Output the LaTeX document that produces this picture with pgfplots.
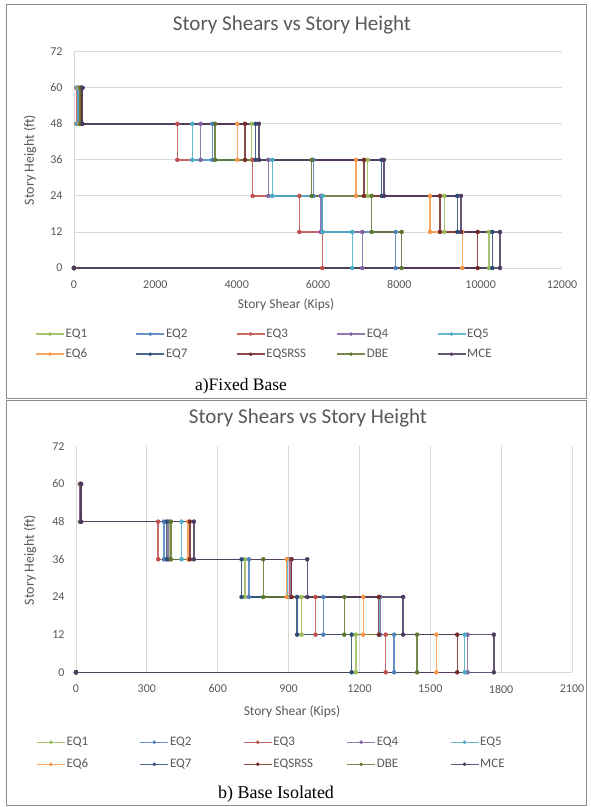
\documentclass[border=0pt]{standalone}
\usepackage{fontspec}
\setmainfont{Carlito}
\newfontfamily\capfont{Liberation Serif}
\usepackage{pgfplots}
\pgfplotsset{compat=1.18}

\definecolor{cEQa}{HTML}{9BBB59}
\definecolor{cEQb}{HTML}{4F81BD}
\definecolor{cEQc}{HTML}{C0504D}
\definecolor{cEQd}{HTML}{8064A2}
\definecolor{cEQe}{HTML}{4BACC6}
\definecolor{cEQf}{HTML}{F79646}
\definecolor{cEQg}{HTML}{2C4D75}
\definecolor{cSRSS}{HTML}{772C2A}
\definecolor{cDBE}{HTML}{5F7530}
\definecolor{cMCE}{HTML}{4D3B62}
\definecolor{tickgray}{HTML}{595959}
\definecolor{gridgray}{HTML}{D9D9D9}
\definecolor{framegray}{HTML}{8C8C8C}

\pgfplotsset{
  stair/.style={color=#1, line width=1.4pt, draw opacity=0.85, mark=*, mark size=2pt,
    mark options={solid, fill=#1, line width=0.4pt, draw opacity=1}},
  shearaxis/.style={
    scale only axis, clip=false,
    axis x line*=bottom, axis y line*=left,
    axis line style={draw=gridgray, line width=0.9pt},
    grid style={draw=gridgray, line width=0.9pt},
    major tick length=0pt,
    ymin=0, ymax=72, ytick={0,12,...,72},
    scaled x ticks=false,
    tick label style={font=\fontsize{12}{12}\selectfont, text=tickgray},
    /pgf/number format/assume math mode=true,
    /pgf/number format/1000 sep={},
    xticklabel style={yshift=-9pt}, yticklabel style={xshift=-8pt},
    legend columns=5,
    legend style={draw=none, fill=none, inner sep=0pt, anchor=north west,
      font=\fontsize{13}{15}\selectfont, text=tickgray,
      nodes={inner sep=1pt}, column sep=0pt},
    legend cell align=left,
    legend image code/.code={\draw[mark repeat=2, mark phase=2, #1, mark size=1.6pt]
      plot coordinates {(0pt,0pt) (14pt,0pt) (28pt,0pt)};},
  },
}

\begin{document}
\begin{tikzpicture}
\path[fill=white] (0pt,0pt) rectangle (590pt,-807pt);
\draw[framegray, line width=0.8pt] (6.5pt,-4.5pt) rectangle (586pt,-398.5pt);
\draw[framegray, line width=0.8pt] (6.5pt,-400.5pt) rectangle (586pt,-805.5pt);

% a) fixed base
\begin{axis}[shearaxis, at={(74pt,-268pt)}, anchor=south west,
  width=488pt, height=216.3pt,
  xmin=0, xmax=12000, xtick={0,2000,...,12000}, ymajorgrids,
  legend style={at={(axis description cs:-0.0799,-0.277)}, row sep=8pt}]
\addplot[stair=cEQa] coordinates {(160,60) (160,48) (4370,48) (4370,36) (7221,36) (7221,24) (9105,24) (9105,12) (10204,12) (10204,0) (0,0)};
\addlegendentry{\makebox[69pt][l]{EQ1}}
\addplot[stair=cEQb] coordinates {(110,60) (110,48) (3400,48) (3400,36) (5885,36) (5885,24) (6100,24) (6100,12) (7910,12) (7910,0) (0,0)};
\addlegendentry{\makebox[69pt][l]{EQ2}}
\addplot[stair=cEQc] coordinates {(60,60) (60,48) (2540,48) (2540,36) (4393,36) (4393,24) (5540,24) (5540,12) (6106,12) (6106,0) (0,0)};
\addlegendentry{\makebox[69pt][l]{EQ3}}
\addplot[stair=cEQd] coordinates {(90,60) (90,48) (3115,48) (3115,36) (4778,36) (4778,24) (6066,24) (6066,12) (7089,12) (7089,0) (0,0)};
\addlegendentry{\makebox[69pt][l]{EQ4}}
\addplot[stair=cEQe] coordinates {(80,60) (80,48) (2910,48) (2910,36) (4877,36) (4877,24) (6115,24) (6115,12) (6843,12) (6843,0) (0,0)};
\addlegendentry{\makebox[69pt][l]{EQ5}}
\addplot[stair=cEQf] coordinates {(130,60) (130,48) (4016,48) (4016,36) (6934,36) (6934,24) (8753,24) (8753,12) (9548,12) (9548,0) (0,0)};
\addlegendentry{\makebox[69pt][l]{EQ6}}
\addplot[stair=cEQg] coordinates {(200,60) (200,48) (4468,48) (4468,36) (7566,36) (7566,24) (9425,24) (9425,12) (10286,12) (10286,0) (0,0)};
\addlegendentry{\makebox[69pt][l]{EQ7}}
\addplot[stair=cSRSS] coordinates {(170,60) (170,48) (4205,48) (4205,36) (7131,36) (7131,24) (8999,24) (8999,12) (9926,12) (9926,0) (0,0)};
\addlegendentry{\makebox[69pt][l]{EQSRSS}}
\addplot[stair=cDBE] coordinates {(150,60) (150,48) (3470,48) (3470,36) (5844,36) (5844,24) (7320,24) (7320,12) (8057,12) (8057,0) (0,0)};
\addlegendentry{\makebox[69pt][l]{DBE}}
\addplot[stair=cMCE] coordinates {(210,60) (210,48) (4549,48) (4549,36) (7622,36) (7622,24) (9516,24) (9516,12) (10475,12) (10475,0) (0,0)};
\addlegendentry{\makebox[69pt][l]{MCE}}
\end{axis}

% b) base isolated
\begin{axis}[shearaxis, at={(76pt,-672.3pt)}, anchor=south west,
  width=496pt, height=226pt,
  xmin=0, xmax=2100, xtick={0,300,...,2100}, xmajorgrids,
  legend style={at={(axis description cs:-0.0806,-0.282)}, row sep=10pt}]
\addplot[stair=cEQa] coordinates {(20,60) (20,48) (395,48) (395,36) (715,36) (715,24) (955,24) (955,12) (1185,12) (1185,0) (0,0)};
\addlegendentry{\makebox[72pt][l]{EQ1}}
\addplot[stair=cEQb] coordinates {(18,60) (18,48) (372,48) (372,36) (732,36) (732,24) (1047,24) (1047,12) (1347,12) (1347,0) (0,0)};
\addlegendentry{\makebox[72pt][l]{EQ2}}
\addplot[stair=cEQc] coordinates {(16,60) (16,48) (348,48) (348,36) (905,36) (905,24) (1014,24) (1014,12) (1311,12) (1311,0) (0,0)};
\addlegendentry{\makebox[72pt][l]{EQ3}}
\addplot[stair=cEQd] coordinates {(17,60) (17,48) (390,48) (390,36) (910,36) (910,24) (1288,24) (1288,12) (1658,12) (1658,0) (0,0)};
\addlegendentry{\makebox[72pt][l]{EQ4}}
\addplot[stair=cEQe] coordinates {(18,60) (18,48) (447,48) (447,36) (896,36) (896,24) (1284,24) (1284,12) (1646,12) (1646,0) (0,0)};
\addlegendentry{\makebox[72pt][l]{EQ5}}
\addplot[stair=cEQf] coordinates {(19,60) (19,48) (475,48) (475,36) (892,36) (892,24) (1216,24) (1216,12) (1526,12) (1526,0) (0,0)};
\addlegendentry{\makebox[72pt][l]{EQ6}}
\addplot[stair=cEQg] coordinates {(20,60) (20,48) (384,48) (384,36) (701,36) (701,24) (936,24) (936,12) (1167,12) (1167,0) (0,0)};
\addlegendentry{\makebox[72pt][l]{EQ7}}
\addplot[stair=cSRSS] coordinates {(21,60) (21,48) (482,48) (482,36) (913,36) (913,24) (1282,24) (1282,12) (1614,12) (1614,0) (0,0)};
\addlegendentry{\makebox[72pt][l]{EQSRSS}}
\addplot[stair=cDBE] coordinates {(20,60) (20,48) (402,48) (402,36) (793,36) (793,24) (1136,24) (1136,12) (1444,12) (1444,0) (0,0)};
\addlegendentry{\makebox[72pt][l]{DBE}}
\addplot[stair=cMCE] coordinates {(22,60) (22,48) (499,48) (499,36) (979,36) (979,24) (1385,24) (1385,12) (1769,12) (1769,0) (0,0)};
\addlegendentry{\makebox[72pt][l]{MCE}}
\end{axis}

\begin{scope}[every node/.style={text=tickgray}]
\node[font=\fontsize{21}{21}\selectfont] at (292pt,-25pt) {Story Shears vs Story Height};
\node[font=\fontsize{21}{21}\selectfont] at (308pt,-418pt) {Story Shears vs Story Height};
\node[font=\fontsize{14}{14}\selectfont, rotate=90] at (30pt,-160pt) {Story Height (ft)};
\node[font=\fontsize{14}{14}\selectfont, rotate=90] at (30pt,-560pt) {Story Height (ft)};
\node[font=\fontsize{13.5}{13.5}\selectfont] at (286pt,-305pt) {Story Shear (Kips)};
\node[font=\fontsize{13.5}{13.5}\selectfont] at (292pt,-712pt) {Story Shear (Kips)};
\end{scope}
\node[font=\capfont\fontsize{17.5}{17.5}\selectfont] at (241pt,-386pt) {a)Fixed Base};
\node[font=\capfont\fontsize{18}{18}\selectfont] at (276pt,-794pt) {b) Base Isolated};
\end{tikzpicture}
\end{document}
